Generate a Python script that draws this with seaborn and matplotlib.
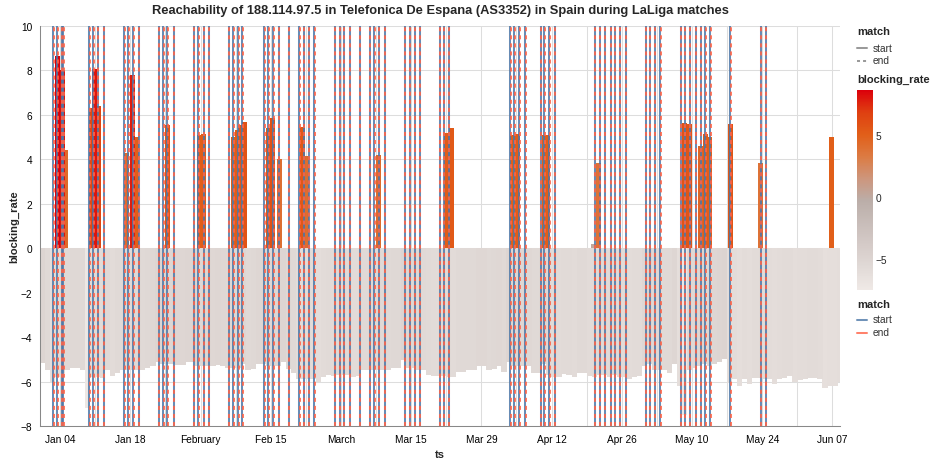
import numpy as np
import pandas as pd
import matplotlib
matplotlib.use("Agg")
import matplotlib.pyplot as plt
import matplotlib.dates as mdates
from matplotlib.colors import LinearSegmentedColormap, Normalize
from matplotlib.lines import Line2D
import matplotlib.cm as cm
import seaborn as sns

TITLE = "Reachability of 188.114.97.5 in Telefonica De Espana (AS3352) in Spain during LaLiga matches"

# ---------------- data ----------------
# daily baseline blocking rate, one value per day starting Dec 31 (noon)
BASE_START = "2025-12-31 12:00"
BASE_RATE = [
    -5.15, -5.5, -6.05, -5.8, -5.6, -5.5, -5.4, -5.4, -5.5, -7.2,
    -5.8, -5.8, -5.85, -5.5, -5.75, -5.6, -5.5, -5.5, -5.5, -5.5,
    -5.5, -5.4, -5.3, -5.1, -5.2, -5.2, -5.2, -5.25, -5.25, -5.1,
    -5.1, -5.3, -5.3, -5.3, -5.3, -5.25, -5.3, -5.4, -5.4, -5.4,
    -5.2, -5.5, -5.45, -5.2, -5.2, -5.3, -5.3, -5.3, -5.1, -5.45,
    -5.6, -5.9, -5.9, -5.9, -5.9, -6.0, -5.8, -5.7, -5.75, -5.7,
    -5.7, -5.7, -5.8, -5.75, -5.5, -5.5, -5.5, -5.5, -5.5, -5.5,
    -5.4, -5.4, -5.05, -5.4, -5.4, -5.5, -5.5, -5.7, -5.75, -5.75,
    -5.75, -5.8, -5.8, -5.55, -5.55, -5.5, -5.5, -5.3, -5.3, -5.5,
    -5.45, -5.3, -5.55, -5.1, -5.3, -5.3, -5.3, -5.3, -5.6, -5.6,
    -5.2, -5.7, -5.8, -5.8, -5.65, -5.7, -5.8, -5.6, -5.6, -5.75,
    -5.8, -5.7, -5.7, -5.8, -5.7, -5.8, -5.8, -5.9, -5.8, -5.75,
    -5.3, -5.2, -5.5, -5.5, -5.5, -5.6, -5.2, -6.2, -7.5, -5.5,
    -5.4, -5.3, -5.2, -5.3, -5.2, -5.1, -5.0, -6.05, -5.9, -6.2,
    -5.9, -6.1, -5.85, -5.85, -5.9, -5.9, -6.1, -5.9, -5.85, -5.75,
    -6.0, -5.95, -5.9, -5.85, -5.85, -5.9, -6.3, -6.2, -6.2, -6.0,
]

SPIKE_TS = [
    "2026-01-03 12:00", "2026-01-04 12:00", "2026-01-05 04:00",
    "2026-01-10 08:00", "2026-01-10 22:00", "2026-01-11 15:00",
    "2026-01-17 05:00", "2026-01-18 10:00", "2026-01-19 05:00",
    "2026-01-25 09:00",
    "2026-01-31 18:00", "2026-02-01 16:00",
    "2026-02-07 12:00", "2026-02-08 08:00", "2026-02-09 00:00", "2026-02-09 17:00",
    "2026-02-14 12:00", "2026-02-15 07:00", "2026-02-16 17:00",
    "2026-02-21 06:00", "2026-02-22 02:00",
    "2026-03-08 10:00",
    "2026-03-21 23:00", "2026-03-22 23:00",
    "2026-04-04 07:00", "2026-04-05 07:00",
    "2026-04-10 13:00", "2026-04-11 04:00",
    "2026-04-20 10:00", "2026-04-21 10:00",
    "2026-05-08 13:00", "2026-05-09 13:00", "2026-05-11 18:00", "2026-05-12 18:00", "2026-05-13 13:00",
    "2026-05-17 15:00",
    "2026-05-23 17:00",
    "2026-06-06 19:00",
]
SPIKE_RATE = [
    8.66, 8.03, 4.4,
    6.3, 8.05, 6.4,
    4.3, 7.8, 5.0,
    5.55,
    5.1, 5.15,
    5.0, 5.3, 5.55, 5.7,
    5.4, 5.85, 4.0,
    5.45, 4.15,
    4.2,
    5.2, 5.4,
    5.1, 5.15,
    5.1, 5.1,
    0.2, 3.85,
    5.65, 5.6, 4.6, 5.15, 5.0,
    5.6,
    3.85,
    5.0,
]

MATCH_START = [
    "2026-01-02 16:00", "2026-01-03 11:00", "2026-01-04 08:00", "2026-01-04 16:00",
    "2026-01-09 19:00", "2026-01-10 15:00", "2026-01-11 12:00", "2026-01-12 18:00",
    "2026-01-16 19:00", "2026-01-17 15:00", "2026-01-18 14:00", "2026-01-19 18:00",
    "2026-01-23 17:00", "2026-01-24 14:00", "2026-01-25 10:00", "2026-01-26 17:00",
    "2026-01-30 17:00", "2026-01-31 13:00", "2026-02-01 17:00", "2026-02-02 16:00",
    "2026-02-06 16:00", "2026-02-07 12:00", "2026-02-08 12:00", "2026-02-09 07:00",
    "2026-02-13 17:00", "2026-02-14 12:00", "2026-02-15 12:00", "2026-02-16 15:00", "2026-02-18 15:00",
    "2026-02-20 16:00", "2026-02-21 15:00", "2026-02-22 14:00", "2026-02-23 16:00",
    "2026-02-27 19:00", "2026-02-28 19:00", "2026-03-01 15:00", "2026-03-02 18:00", "2026-03-04 18:00",
    "2026-03-06 18:00", "2026-03-07 15:00", "2026-03-08 13:00", "2026-03-09 18:00",
    "2026-03-13 18:00", "2026-03-14 17:00", "2026-03-15 17:00", "2026-03-16 17:00",
    "2026-03-20 18:00", "2026-03-21 13:00", "2026-03-22 13:00",
    "2026-04-03 19:00", "2026-04-04 14:00", "2026-04-05 14:00", "2026-04-06 18:00",
    "2026-04-09 19:00", "2026-04-10 13:00", "2026-04-11 13:00", "2026-04-12 16:00",
    "2026-04-20 15:00", "2026-04-21 15:00", "2026-04-22 15:00", "2026-04-23 18:00",
    "2026-04-24 15:00", "2026-04-25 15:00", "2026-04-26 18:00",
    "2026-04-30 18:00", "2026-05-01 14:00", "2026-05-02 14:00", "2026-05-03 17:00",
    "2026-05-07 18:00", "2026-05-08 13:00", "2026-05-09 13:00", "2026-05-10 18:00",
    "2026-05-11 17:00", "2026-05-12 16:00", "2026-05-13 16:00",
    "2026-05-17 16:00",
    "2026-05-23 17:00", "2026-05-24 17:00",
]
MATCH_END = [
    "2026-01-02 18:00", "2026-01-03 13:00", "2026-01-04 10:00", "2026-01-04 18:00",
    "2026-01-09 21:00", "2026-01-10 17:00", "2026-01-11 14:00", "2026-01-12 20:00",
    "2026-01-16 21:00", "2026-01-17 17:00", "2026-01-18 16:00", "2026-01-19 20:00",
    "2026-01-23 19:00", "2026-01-24 16:00", "2026-01-25 12:00", "2026-01-26 19:00",
    "2026-01-30 19:00", "2026-01-31 15:00", "2026-02-01 19:00", "2026-02-02 18:00",
    "2026-02-06 18:00", "2026-02-07 14:00", "2026-02-08 14:00", "2026-02-09 09:00",
    "2026-02-13 19:00", "2026-02-14 14:00", "2026-02-15 14:00", "2026-02-16 17:00", "2026-02-18 17:00",
    "2026-02-20 18:00", "2026-02-21 17:00", "2026-02-22 16:00", "2026-02-23 18:00",
    "2026-02-27 21:00", "2026-02-28 21:00", "2026-03-01 17:00", "2026-03-02 20:00", "2026-03-04 20:00",
    "2026-03-06 20:00", "2026-03-07 17:00", "2026-03-08 15:00", "2026-03-09 20:00",
    "2026-03-13 20:00", "2026-03-14 19:00", "2026-03-15 19:00", "2026-03-16 19:00",
    "2026-03-20 20:00", "2026-03-21 15:00", "2026-03-22 15:00",
    "2026-04-03 21:00", "2026-04-04 16:00", "2026-04-05 16:00", "2026-04-06 20:00",
    "2026-04-09 21:00", "2026-04-10 15:00", "2026-04-11 15:00", "2026-04-12 18:00",
    "2026-04-20 17:00", "2026-04-21 17:00", "2026-04-22 17:00", "2026-04-23 20:00",
    "2026-04-24 17:00", "2026-04-25 17:00", "2026-04-26 20:00",
    "2026-04-30 20:00", "2026-05-01 16:00", "2026-05-02 16:00", "2026-05-03 19:00",
    "2026-05-07 20:00", "2026-05-08 15:00", "2026-05-09 15:00", "2026-05-10 20:00",
    "2026-05-11 19:00", "2026-05-12 18:00", "2026-05-13 18:00",
    "2026-05-17 18:00",
    "2026-05-23 19:00", "2026-05-24 19:00",
]

XTICK_DATES = [
    "2026-01-04", "2026-01-11", "2026-01-18", "2026-01-25", "2026-02-01", "2026-02-08",
    "2026-02-15", "2026-02-22", "2026-03-01", "2026-03-08", "2026-03-15", "2026-03-22",
    "2026-03-29", "2026-04-05", "2026-04-12", "2026-04-19", "2026-04-26", "2026-05-03",
    "2026-05-10", "2026-05-17", "2026-05-24", "2026-05-31", "2026-06-07",
]
XTICK_LABELS = [
    "Jan 04", "", "Jan 18", "", "February", "", "Feb 15", "", "March", "", "Mar 15", "",
    "Mar 29", "", "Apr 12", "", "Apr 26", "", "May 10", "", "May 24", "", "Jun 07",
]
YTICKS = [-8, -6, -4, -2, 0, 2, 4, 6, 8, 10]
X_RANGE = ["2025-12-31 00:00", "2026-06-08 12:00"]

# vega "lightgreyred" scheme
SCHEME = ["#efe9e6", "#e1dad7", "#d5cbc8", "#c8bdb9", "#bbaea9",
          "#cd967d", "#dc7b43", "#e15f19", "#df4011", "#dc000b"]
START_COLOR = "#4c78a8"
END_COLOR = "#ff6347"

# ---------------- style ----------------
W, H = 934, 464
sns.set_style("white")
plt.rcParams["font.family"] = ["Liberation Sans", "DejaVu Sans"]
plt.rcParams["axes.unicode_minus"] = True

fig = plt.figure(figsize=(W / 100, H / 100), dpi=100)
def fx(px): return px / W
def fy(py): return 1 - py / H

L, R, T, B = 40, 840, 27, 427
ax = fig.add_axes([fx(L), fy(B), fx(R - L), (B - T) / H])

cmap = LinearSegmentedColormap.from_list("lightgreyred", SCHEME)
base_ts = pd.date_range(BASE_START, periods=len(BASE_RATE), freq="D")
base_df = pd.DataFrame({"ts": mdates.date2num(base_ts), "blocking_rate": BASE_RATE})
spike_df = pd.DataFrame({"ts": mdates.date2num(pd.to_datetime(SPIKE_TS)),
                         "blocking_rate": SPIKE_RATE})
vmin = min(min(BASE_RATE), min(SPIKE_RATE))
vmax = max(max(BASE_RATE), max(SPIKE_RATE))
norm = Normalize(vmin, vmax)

def native_step(s):
    u = np.unique(s.values)
    return np.min(np.diff(u)) if len(u) > 1 else 1.0

BAR_DAYS = 1.0
sns.barplot(data=base_df, x="ts", y="blocking_rate", hue="blocking_rate",
            palette=cmap, hue_norm=(vmin, vmax), native_scale=True,
            width=1.06 * BAR_DAYS / native_step(base_df["ts"]), saturation=1,
            errorbar=None, legend=False, linewidth=0, edgecolor="none", ax=ax, zorder=2)
sns.barplot(data=spike_df, x="ts", y="blocking_rate", hue="blocking_rate",
            palette=cmap, hue_norm=(vmin, vmax), native_scale=True,
            width=BAR_DAYS / native_step(spike_df["ts"]), saturation=1,
            errorbar=None, legend=False, linewidth=0, edgecolor="none", ax=ax, zorder=2)

for t in pd.to_datetime(MATCH_START):
    ax.axvline(mdates.date2num(t), color=START_COLOR, lw=1.45, alpha=0.85, zorder=4)
for t in pd.to_datetime(MATCH_END):
    ax.axvline(mdates.date2num(t), color=END_COLOR, lw=1.45, alpha=0.85,
               dashes=(2, 2), zorder=5)

xr = mdates.date2num(pd.to_datetime(X_RANGE))
ax.set_xlim(xr[0], xr[1])
ax.set_ylim(-8, 10)
ax.set_xticks(mdates.date2num(pd.to_datetime(XTICK_DATES)))
ax.set_xticklabels(XTICK_LABELS)
ax.set_yticks(YTICKS)
ax.set_yticklabels([f"{v:d}".replace("-", "\u2212") for v in YTICKS])
ax.grid(True, color="#dddddd", lw=0.75, zorder=0)
ax.set_axisbelow(True)
for s in ["top", "right"]:
    ax.spines[s].set_visible(False)
for s in ["left", "bottom"]:
    ax.spines[s].set_color("#888888")
    ax.spines[s].set_linewidth(0.75)
    ax.spines[s].set_zorder(6)
ax.tick_params(axis="both", which="major", length=3.6, width=0.75, color="#888888",
               labelsize=7.3, pad=2, labelcolor="#000000")
ax.set_xlabel("ts", fontsize=8, fontweight="bold", labelpad=4)
ax.set_ylabel("blocking_rate", fontsize=8, fontweight="bold", labelpad=1)

fig.text(fx(440), fy(11), TITLE, ha="center", va="center", fontsize=9.3, fontweight="bold")

# ---------------- legends ----------------
def legend_line(y, color, dashed=False, alpha=1.0):
    kw = dict(dashes=(1.5, 1.5)) if dashed else {}
    fig.add_artist(Line2D([fx(857), fx(867)], [fy(y), fy(y)], transform=fig.transFigure,
                          color=color, lw=1.45, alpha=alpha, **kw))

fig.text(fx(857), fy(32.5), "match", fontsize=8, fontweight="bold", va="center", ha="left")
legend_line(48.5, "#9a9a9a")
fig.text(fx(872.5), fy(48.5), "start", fontsize=7.3, va="center", ha="left", color="#333")
legend_line(61.5, "#9a9a9a", dashed=True)
fig.text(fx(872.5), fy(61.5), "end", fontsize=7.3, va="center", ha="left", color="#333")

fig.text(fx(857), fy(80), "blocking_rate", fontsize=8, fontweight="bold", va="center", ha="left")
cax = fig.add_axes([fx(857.3), fy(290.7), fx(15.4), 199.7 / H])
cb = fig.colorbar(cm.ScalarMappable(norm=norm, cmap=cmap), cax=cax)
cb.outline.set_visible(False)
cb.set_ticks([-5, 0, 5])
cb.set_ticklabels(["\u22125", "0", "5"])
cax.tick_params(length=0, labelsize=7.3, pad=2)

fig.text(fx(857), fy(304.5), "match", fontsize=8, fontweight="bold", va="center", ha="left")
legend_line(320.5, START_COLOR, alpha=0.8)
fig.text(fx(872.5), fy(320.5), "start", fontsize=7.3, va="center", ha="left", color="#333")
legend_line(333.5, END_COLOR, alpha=0.8)
fig.text(fx(872.5), fy(333.5), "end", fontsize=7.3, va="center", ha="left", color="#333")

fig.savefig("out.png", dpi=100)
